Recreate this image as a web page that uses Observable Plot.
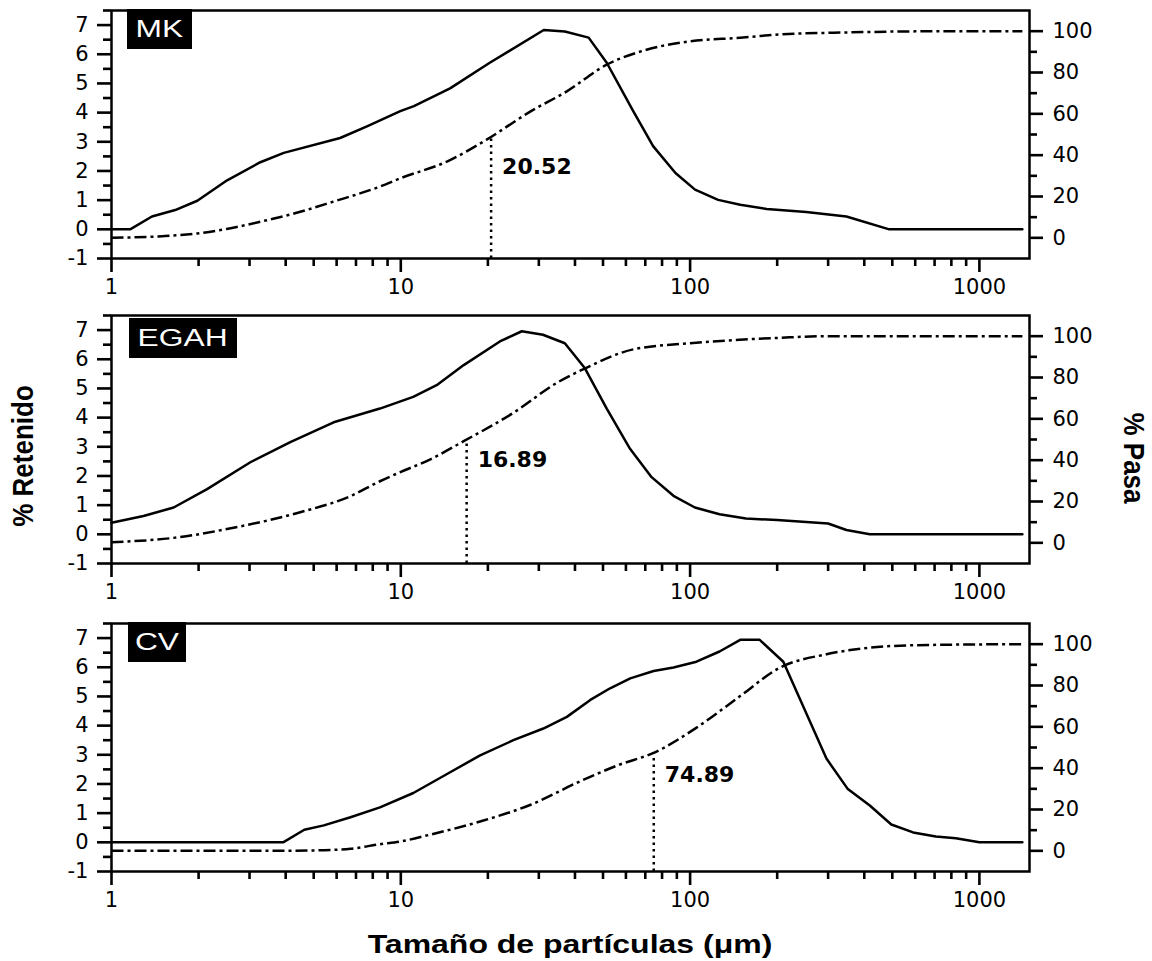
<!DOCTYPE html>
<html>
<head>
<meta charset="utf-8">
<script src="https://cdn.jsdelivr.net/npm/d3@7"></script>
<script src="https://cdn.jsdelivr.net/npm/@observablehq/plot@0.6"></script>
<style>
  body { margin: 0; background: #fff; }
  #chart { position: relative; width: 1152px; height: 961px; font-family: "Liberation Sans", Arial, sans-serif; color: #000; }
  .panel { position: absolute; left: 0; width: 1152px; }
  .panel svg { position: absolute; left: 0; top: 0; }
  .tag { position: absolute; background: #000; color: #fff; height: 40px; display: flex; align-items: center; justify-content: center; font-size: 23px; font-family: "Liberation Sans", Arial, sans-serif; }
  .tag span { display: inline-block; transform: scaleX(1.38); }
  .title { position: absolute; white-space: nowrap; font-weight: bold; font-family: "Liberation Sans", Arial, sans-serif; }
</style>
</head>
<body>
<div id="chart"></div>
<script>
// ---------------- data ----------------
const sampleNames = ["MK", "EGAH", "CV"];
const d50Values = [20.52, 16.89, 74.89];

// % Retenido (left axis)
const mkRetX = [1, 1.16, 1.38, 1.66, 1.98, 2.51, 3.27, 3.94, 6.17, 7.64, 9.96, 11.1, 14.8, 20.3, 31.2, 36.9, 44.6, 51.5, 63.6, 74.5, 89, 104, 125, 149, 184, 252, 347, 488, 1408];
const mkRetY = [0, 0, 0.44, 0.66, 0.98, 1.68, 2.30, 2.62, 3.13, 3.53, 4.05, 4.22, 4.83, 5.71, 6.83, 6.78, 6.57, 5.71, 4.05, 2.85, 1.93, 1.36, 1.01, 0.84, 0.70, 0.59, 0.44, 0, 0];
const egRetX = [1, 1.29, 1.64, 2.14, 3.02, 4.15, 5.86, 8.47, 11.04, 13.3, 16.5, 22.0, 26.2, 31.0, 36.9, 43.3, 51.5, 62.0, 73.6, 87.6, 103.9, 126.4, 156, 200, 300, 347, 418, 1408];
const egRetY = [0.40, 0.63, 0.92, 1.55, 2.47, 3.16, 3.84, 4.31, 4.71, 5.11, 5.80, 6.61, 6.96, 6.84, 6.55, 5.69, 4.31, 2.93, 1.96, 1.32, 0.92, 0.69, 0.54, 0.49, 0.37, 0.15, 0, 0];
const cvRetX = [1, 3.92, 4.64, 5.42, 6.70, 8.47, 11.05, 14.5, 18.8, 24.5, 31.1, 37.5, 45.2, 52.9, 62.1, 74.8, 87.6, 105.2, 126.4, 149, 174, 210, 296, 350, 418, 496, 590, 707, 829, 1000, 1408];
const cvRetY = [0, 0, 0.43, 0.58, 0.86, 1.20, 1.69, 2.35, 2.98, 3.50, 3.90, 4.30, 4.88, 5.28, 5.62, 5.87, 5.99, 6.19, 6.54, 6.94, 6.94, 6.19, 2.87, 1.84, 1.26, 0.61, 0.34, 0.20, 0.14, 0, 0];

// % Pasa (right axis)
const mkPasaX = [1, 1.5, 1.98, 2.5, 3.27, 4.49, 5.84, 8.47, 9.96, 14.5, 19.8, 28.1, 37.5, 51.5, 70.7, 100, 149, 204, 356, 600, 1408];
const mkPasaY = [0, 0.8, 2.1, 4.3, 7.8, 12.6, 17.5, 24.8, 28.8, 37.0, 47.5, 61.2, 70.9, 83.8, 91.0, 95.1, 96.8, 98.4, 99.4, 99.9, 100];
const egPasaX = [1, 1.64, 2.64, 4.49, 6.7, 8.47, 9.96, 12.6, 16.5, 24.5, 34.6, 43.8, 63.6, 105, 204, 300, 1408];
const egPasaY = [0.3, 2.4, 7.3, 14.8, 22.6, 29.8, 34.2, 40.3, 49.2, 62.9, 77.4, 84.7, 93.6, 96.8, 99.2, 100, 100];
const cvPasaX = [1, 3.9, 5.4, 6.7, 8.47, 9.96, 12.6, 18.8, 28.1, 41.6, 57, 74.8, 105, 149, 204, 296, 418, 604, 1408];
const cvPasaY = [0, 0, 0.3, 1.0, 3.2, 4.5, 7.8, 14.2, 22.3, 33.6, 41.7, 47.4, 59.5, 74.9, 88.6, 95.1, 98.3, 99.5, 100];

// ticks
const xMajorTicks = [1, 10, 100, 1000];
const xMinorTicks = [2, 3, 4, 5, 6, 7, 8, 9, 20, 30, 40, 50, 60, 70, 80, 90, 200, 300, 400, 500, 600, 700, 800, 900];
const retMajorTicks = [-1, 0, 1, 2, 3, 4, 5, 6, 7];
const retMinorTicks = [-0.5, 0.5, 1.5, 2.5, 3.5, 4.5, 5.5, 6.5, 7.5];
const pasaMajorTicks = [0, 20, 40, 60, 80, 100];
const pasaMinorTicks = [10, 30, 50, 70, 90];

const xTitle = "Tamaño de partículas (μm)";
const leftTitle = "% Retenido";
const rightTitle = "% Pasa";

// ---------------- layout ----------------
const W = 1152, H = 311;
const M = {top: 10, right: 123, bottom: 53, left: 111};
const xDomain = [1, 1490];
const retDomain = [-1, 7.5];
const pasaDomain = [-10, 110];
const panelTops = [0, 305, 613];
const tagLayout = [{left: 127, dy: 0, width: 65}, {left: 129, dy: 4, width: 108}, {left: 128, dy: 0, width: 58}];
const annotY = [34.5, 40.3, 36.9];
const majorLen = 14, minorLen = 8, labelGap = 9;

const series = [
  {retX: mkRetX, retY: mkRetY, pasaX: mkPasaX, pasaY: mkPasaY},
  {retX: egRetX, retY: egRetY, pasaX: egPasaX, pasaY: egPasaY},
  {retX: cvRetX, retY: cvRetY, pasaX: cvPasaX, pasaY: cvPasaY}
];

// secondary (right) axis: % Pasa expressed on the % Retenido scale
const k = (retDomain[1] - retDomain[0]) / (pasaDomain[1] - pasaDomain[0]);
const pasaToRet = p => retDomain[0] + (p - pasaDomain[0]) * k;
const retToPasa = r => pasaDomain[0] + (r - retDomain[0]) / k;

function interpLog(xs, ys, x) {
  for (let i = 0; i < xs.length - 1; i++) {
    if (x >= xs[i] && x <= xs[i + 1]) {
      const t = (Math.log10(x) - Math.log10(xs[i])) / (Math.log10(xs[i + 1]) - Math.log10(xs[i]));
      return ys[i] + t * (ys[i + 1] - ys[i]);
    }
  }
  return ys[ys.length - 1];
}

// outward tick marks drawn as rules hanging off the frame edges
const tickStyle = {stroke: "black", strokeWidth: 2.6, strokeLinecap: "butt"};
function xTicks(values, len) {
  return Plot.ruleX(values, {x: d => d, y1: retDomain[0], y2: retDomain[0], insetBottom: -len, ...tickStyle});
}
function yTicksLeft(values, len) {
  return Plot.ruleY(values, {y: d => d, x1: xDomain[0], x2: xDomain[0], insetLeft: -len, ...tickStyle});
}
function yTicksRight(values, len) {
  return Plot.ruleY(values, {y: d => d, x1: xDomain[1], x2: xDomain[1], insetRight: -len, ...tickStyle});
}

const chart = document.getElementById("chart");
const tickFont = {fontSize: 21, fontFamily: "'DejaVu Sans', sans-serif", label: null, tickSize: 0};

series.forEach((s, i) => {
  const panel = document.createElement("div");
  panel.className = "panel";
  panel.style.top = panelTops[i] + "px";
  panel.style.height = H + "px";
  chart.appendChild(panel);

  const d50 = d50Values[i];
  const ruleTop = interpLog(s.pasaX, s.pasaY, d50);
  const pasaRetY = s.pasaY.map(pasaToRet);

  const svg = Plot.plot({
    width: W, height: H,
    marginTop: M.top, marginRight: M.right, marginBottom: M.bottom, marginLeft: M.left,
    style: {background: "white", fontFamily: "'DejaVu Sans', sans-serif", fontSize: "21px", color: "black", overflow: "visible"},
    x: {type: "log", domain: xDomain},
    y: {domain: retDomain},
    marks: [
      xTicks(xMinorTicks, minorLen),
      xTicks(xMajorTicks, majorLen),
      yTicksLeft(retMinorTicks, minorLen),
      yTicksLeft(retMajorTicks, majorLen),
      yTicksRight(pasaMinorTicks.map(pasaToRet), minorLen),
      yTicksRight(pasaMajorTicks.map(pasaToRet), majorLen),
      Plot.axisX({ticks: xMajorTicks, tickPadding: majorLen + labelGap - 2, tickFormat: d => String(d), ...tickFont}),
      Plot.axisY({ticks: retMajorTicks, tickPadding: majorLen + labelGap, tickFormat: d => String(d), ...tickFont}),
      Plot.axisY({ticks: pasaMajorTicks.map(pasaToRet), anchor: "right", tickPadding: majorLen + labelGap, tickFormat: d => String(Math.round(retToPasa(d))), ...tickFont}),
      Plot.line(s.pasaX, {x: s.pasaX, y: pasaRetY, stroke: "black", strokeWidth: 2.5, strokeDasharray: "12,4,3,4", strokeLinecap: "butt", curve: "monotone-x"}),
      Plot.ruleX([d50], {x: d => d, y1: pasaToRet(pasaDomain[0]), y2: pasaToRet(ruleTop), stroke: "black", strokeWidth: 2.5, strokeDasharray: "2.5,4", strokeLinecap: "butt"}),
      Plot.text([d50], {x: d => d, y: pasaToRet(annotY[i]), text: d => d.toFixed(2), textAnchor: "start", dx: 11, fontWeight: "bold", fontSize: 22, fontFamily: "'DejaVu Sans', sans-serif", fill: "black"}),
      Plot.line(s.retX, {x: s.retX, y: s.retY, stroke: "black", strokeWidth: 2.5, strokeLinejoin: "round"}),
      Plot.frame({stroke: "black", strokeWidth: 2.5})
    ]
  });
  panel.appendChild(svg);

  const tag = document.createElement("div");
  tag.className = "tag";
  const tl = tagLayout[i];
  tag.style.left = tl.left + "px";
  tag.style.top = (M.top - 1 + tl.dy) + "px";
  tag.style.width = tl.width + "px";
  const sp = document.createElement("span");
  sp.textContent = sampleNames[i];
  tag.appendChild(sp);
  panel.appendChild(tag);
});

function addTitle(text, cx, cy, transform, size) {
  const d = document.createElement("div");
  d.className = "title";
  d.textContent = text;
  d.style.fontSize = size + "px";
  d.style.left = cx + "px";
  d.style.top = cy + "px";
  d.style.transform = "translate(-50%, -50%) " + transform;
  chart.appendChild(d);
}
addTitle(xTitle, 570, 944, "scaleX(1.23)", 26);
addTitle(leftTitle, 23, 456, "rotate(-90deg) scaleY(1.15)", 26);
addTitle(rightTitle, 1134, 458, "rotate(90deg) scaleY(1.15)", 26);
</script>
</body>
</html>
